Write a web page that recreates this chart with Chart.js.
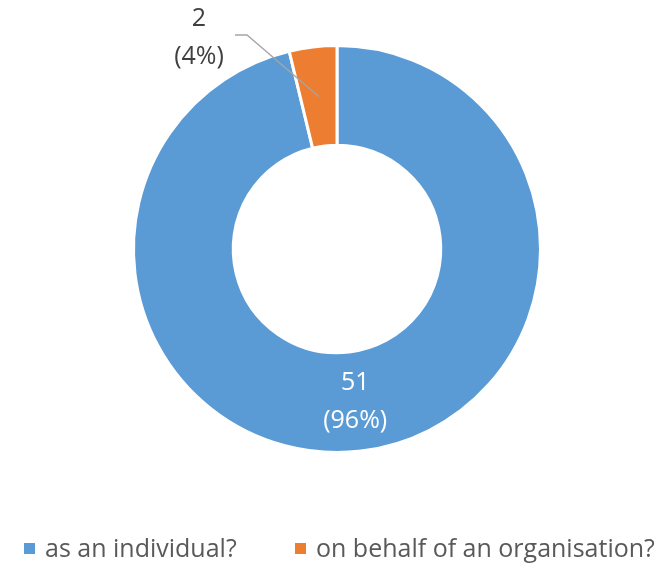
<!DOCTYPE html>
<html>
<head>
<meta charset="utf-8">
<script src="https://cdn.jsdelivr.net/npm/chart.js@4"></script>
<style>
    html, body { margin: 0; padding: 0; background: #fff; }
    #wrap { width: 672px; height: 568px; }
</style>
</head>
<body>
<div id="wrap"><canvas id="donut"></canvas></div>
<script>
// data
const categories = ['as an individual?', 'on behalf of an organisation?'];
const counts = [51, 2];
const colours = ['#5b9bd5', '#ed7d31'];

const total = counts.reduce((a, b) => a + b, 0);

/*---- data labels: value + percentage ----*/
const sliceLabels = {
    id: 'sliceLabels',
    afterDatasetsDraw(chart) {
        const ctx = chart.ctx;
        const meta = chart.getDatasetMeta(0);
        ctx.save();
        ctx.font = '25px "Open Sans"';
        ctx.textAlign = 'center';
        ctx.textBaseline = 'middle';
        meta.data.forEach((arc, i) => {
            const p = arc.getProps(['x', 'y', 'startAngle', 'endAngle', 'innerRadius', 'outerRadius'], true);
            const mid = (p.startAngle + p.endAngle) / 2;
            const rMid = (p.innerRadius + p.outerRadius) / 2;
            const ax = p.x + Math.cos(mid) * rMid;
            const ay = p.y + Math.sin(mid) * rMid;
            const pct = Math.round(counts[i] / total * 100) + '%';
            if (i === 0) {
                ctx.fillStyle = '#ffffff';
                ctx.fillText(String(counts[i]), ax, ay - 19);
                ctx.fillText('(' + pct + ')', ax, ay + 19);
            } else {
                // outside label with leader line
                const lx = p.x - 138, ly = p.y - 211;
                ctx.strokeStyle = '#a5a5a5';
                ctx.lineWidth = 1.3;
                ctx.beginPath();
                ctx.moveTo(ax, ay);
                ctx.lineTo(lx + 48, ly - 3);
                ctx.lineTo(lx + 36, ly - 3);
                ctx.stroke();
                ctx.fillStyle = '#404040';
                ctx.fillText(String(counts[i]), lx, ly - 19);
                ctx.fillText('(' + pct + ')', lx, ly + 19);
            }
        });
        ctx.restore();
    }
};

/*---- bottom legend, drawn by hand so it sits where Excel put it ----*/
const bottomLegend = {
    id: 'bottomLegend',
    afterDraw(chart) {
        const ctx = chart.ctx;
        const ds = chart.data.datasets[0];
        const xs = [24, 295];
        const baseline = 557;
        ctx.save();
        ctx.font = '25px "Open Sans"';
        ctx.textBaseline = 'alphabetic';
        ctx.textAlign = 'left';
        chart.data.labels.forEach((lab, i) => {
            ctx.fillStyle = ds.backgroundColor[i];
            ctx.fillRect(xs[i], 543, 11, 11);
            ctx.fillStyle = '#595959';
            ctx.fillText(lab, xs[i] + 21, baseline);
        });
        ctx.restore();
    }
};

const ctx = document.getElementById('donut').getContext('2d');
const myChart = new Chart(ctx, {
    type: 'doughnut',
    data: {
        labels: categories,
        datasets: [{
            data: counts,
            backgroundColor: colours,
            borderColor: '#ffffff',
            borderWidth: 3,
        }]
    },
    options: {
        responsive: true,
        maintainAspectRatio: false,
        animation: false,
        cutout: '51%',
        layout: {
            padding: { top: 44, bottom: 114, left: 2, right: 0 }
        },
        plugins: {
            legend: { display: false },
            tooltip: { enabled: false }
        }
    },
    plugins: [sliceLabels, bottomLegend]
});
</script>
</body>
</html>
